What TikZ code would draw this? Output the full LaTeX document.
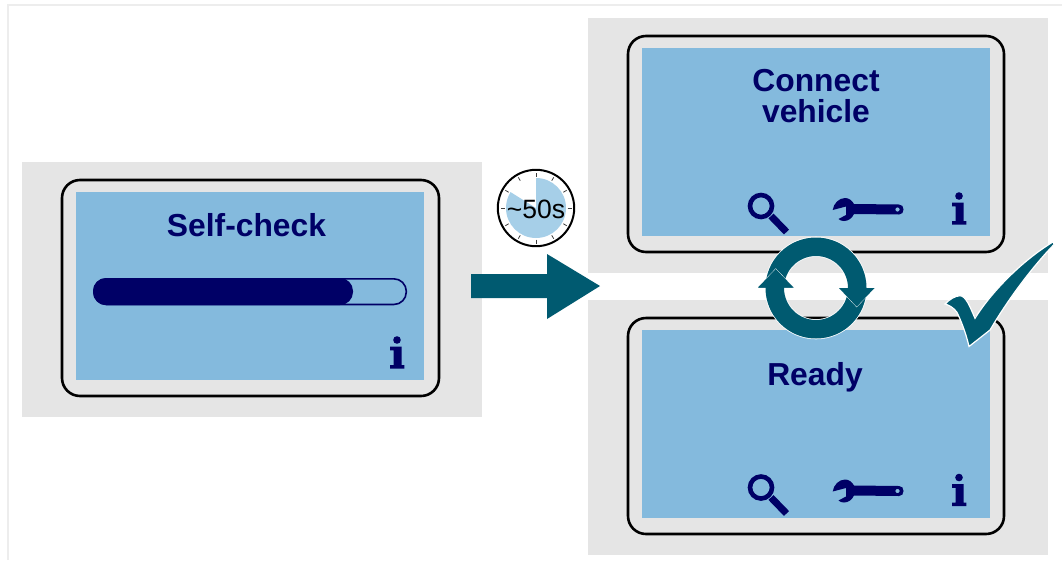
\documentclass[tikz,border=0pt]{standalone}
\usepackage{fontspec}
\setmainfont{Liberation Sans}
\definecolor{panelgray}{HTML}{E5E5E5}
\definecolor{framegray}{HTML}{EDEDED}
\definecolor{screenblue}{HTML}{84BADD}
\definecolor{navy}{HTML}{000066}
\definecolor{tealdark}{HTML}{005A70}
\definecolor{clockblue}{HTML}{A6CFE8}
\tikzset{
 x=1pt,y=-1pt,
 panel/.style={fill=panelgray,draw=none},
 device/.style={draw=black,line width=2.6pt,rounded corners=18pt,fill=panelgray},
 screen/.style={fill=screenblue,draw=none},
 title/.style={font=\bfseries\fontsize{31.8}{31}\selectfont,text=navy,align=center,inner sep=0pt},
 tealshape/.style={fill=tealdark,draw=white,line width=0.8pt,line join=miter},
 pics/infoicon/.style={code={
   \fill[navy] (0,-13.5) circle (3.8);
   \fill[navy] (-7,-7) -- (4.5,-7) -- (4.5,11.5) -- (7.3,11.5) -- (7.3,15) -- (-7,15) -- (-7,11.5) -- (-3.5,11.5) -- (-3.5,-3.2) -- (-7,-3.2) -- cycle;
 }},
 pics/searchicon/.style={code={
   \draw[navy,line width=4.6pt] (0,0) circle (11);
   \draw[navy,line width=7pt] (10,10) -- (25.5,26);
 }},
 pics/wrenchicon/.style={code={
   \fill[navy,even odd rule] (11,-5.5) -- (56,-5)
     .. controls (59,-5) and (60.5,-3) .. (60.5,0) .. controls (60.5,3) and (59,5) .. (56,5) -- (11,4.5)
     .. controls (9,9) and (5,11.5) .. (1,11.5) .. controls (-1,11.5) and (-3,11) .. (-4.5,9.5)
     -- (3,5.5) -- (3,-3) -- (-10.3,0.5)
     .. controls (-9.5,-6) and (-4,-11.5) .. (2,-11.5) .. controls (6,-11.5) and (9,-9) .. (11,-5.5) -- cycle
     (54.5,0) circle (2.2);
 }},
}
\begin{document}
\begin{tikzpicture}
\useasboundingbox (0,0) rectangle (1062,560);
\fill[white] (0,0) rectangle (1062,560);
\draw[framegray,line width=2pt] (8,560) -- (8,5) -- (1062,5);
% panels
\fill[panel] (22,162) rectangle (482,417);
\fill[panel] (588,18) rectangle (1048,273);
\fill[panel] (588,300) rectangle (1048,555);
% devices
\draw[device] (62,180) rectangle (439,396);
\draw[device] (628,36) rectangle (1004,252);
\draw[device] (628,318) rectangle (1004,534);
\fill[screen] (76,192) rectangle (424,380);
\fill[screen] (642,48) rectangle (990,236);
\fill[screen] (642,330) rectangle (990,518);
% titles
\node[title] (selfcheck) at (246.5,225) {Self-check};
\node[title] (connect) at (816,96.3) {Connect\\vehicle};
\node[title] (ready) at (815,377.5) {Ready};
% progress bar
\draw[navy,line width=1.6pt,rounded corners=12.5pt] (93.8,278.8) rectangle (406.3,304.5);
\fill[navy,rounded corners=13pt] (93,278) rectangle (353,305);
% icons
\pic at (397,353.5) {infoicon};
\pic at (959,209.5) {infoicon};
\pic at (959,491) {infoicon};
\pic at (761,206) {searchicon};
\pic at (761,487.5) {searchicon};
\pic at (843,209.5) {wrenchicon};
\pic at (843,491) {wrenchicon};
% clock
\draw[black,fill=white,line width=2pt] (536,208) circle (38.2);
\begin{scope}[shift={(536,208)},y=1pt]
\fill[clockblue] (0,0) -- (0,30) arc[start angle=90,end angle=-212,radius=30] -- cycle;
\foreach \a in {0,30,...,330} \draw[black!75,line width=0.8pt] (\a:31.5) -- (\a:35.5);
\end{scope}
\node[inner sep=0pt,font=\fontsize{26.5}{26}\selectfont] (clocktext) at (536,209) {\char`\~50s};
% big arrow
\fill[tealdark] (471,274) -- (547,274) -- (547,254) -- (600,286) -- (547,319) -- (547,298) -- (471,298) -- cycle;
% cycle
\fill[white,even odd rule] (816,288) circle (51.3) (816,288) circle (31.2);
\fill[tealdark,even odd rule] (816,288) circle (50.5) (816,288) circle (32);
\draw[tealshape] (758,287.5) -- (775.7,269) -- (793.5,287.5);
\fill[tealdark] (758,287.5) -- (775.7,269) -- (793.5,287.5) -- cycle;
\draw[tealshape] (839,288) -- (856.7,306.7) -- (874.5,288);
\fill[tealdark] (839,288) -- (856.7,306.7) -- (874.5,288) -- cycle;
% check mark
\path[tealshape,draw=white,line width=1.2pt,fill=tealdark]
 (945,304) .. controls (950,299) and (955,296) .. (960,295.7)
 .. controls (966,296) and (970,307) .. (975,318.3)
 .. controls (990,294) and (1020,262) .. (1053.3,241.7)
 -- (1054,244.5)
 .. controls (1035,264) and (1010,296) .. (990,330)
 -- (969,346.5)
 .. controls (966,333) and (960,318) .. (956.7,312)
 .. controls (954,308) and (949,305) .. (945,304) -- cycle;
\end{tikzpicture}
\end{document}
